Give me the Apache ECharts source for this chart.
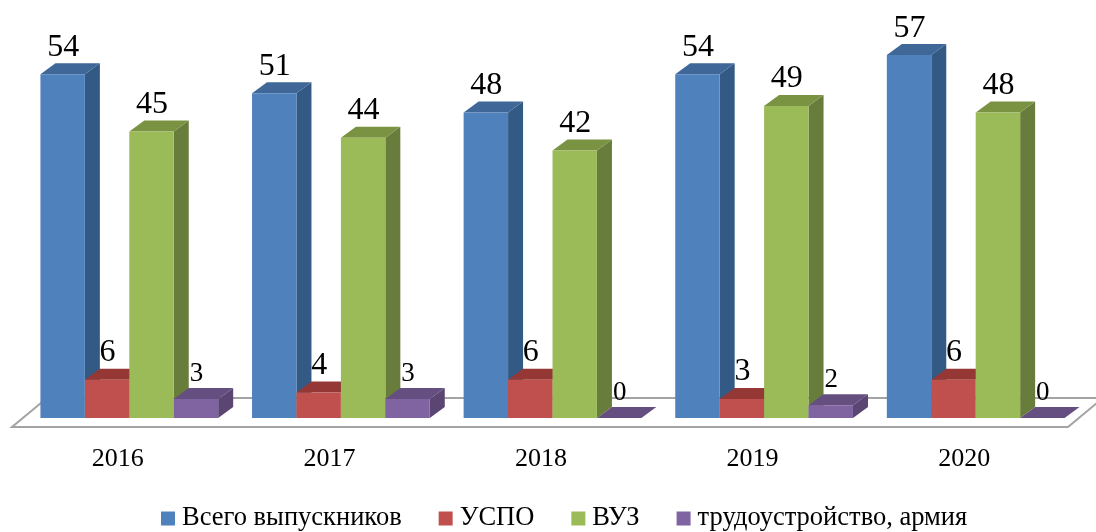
<!DOCTYPE html>
<html>
<head>
<meta charset="utf-8">
<title>Выпускники</title>
<script src="https://cdn.jsdelivr.net/npm/echarts@6/dist/echarts.min.js"></script>
<style>
  html, body { margin: 0; padding: 0; background: #fff; }
  #chart { width: 1096px; height: 532px; }
</style>
</head>
<body>
<div id="chart"></div>
<script>
const years = ['2016', '2017', '2018', '2019', '2020'];
const total = [54, 51, 48, 54, 57];
const uspo = [6, 4, 6, 3, 6];
const vuz = [45, 44, 42, 49, 48];
const work = [3, 3, 0, 2, 0];

const FONT = '"Liberation Serif", "Times New Roman", serif';
const DX = 15, DY = 11;   // глубина псевдо-3D
const BAR = 0.21;         // ширина столбца в долях категории
const SHIFT = 11.5;

function points(list) {
  return { points: list };
}

function barRenderer(slot, colors, fontSize, labelGap) {
  return function (params, api) {
    const top = api.coord([api.value(0), api.value(1)]);
    const base = api.coord([api.value(0), 0]);
    const w = api.size([1, 0])[0] * BAR;
    const x0 = top[0] + SHIFT + (slot - 2) * w;
    const x1 = x0 + w;
    const y0 = top[1], y1 = base[1];
    const children = [
      { type: 'polygon', shape: points([[x1, y0], [x1 + DX, y0 - DY], [x1 + DX, y1 - DY], [x1, y1]]), style: { fill: colors[2] } },
      { type: 'polygon', shape: points([[x0, y0], [x0 + DX, y0 - DY], [x1 + DX, y0 - DY], [x1, y0]]), style: { fill: colors[1] } }
    ];
    if (y1 > y0) {
      children.push({ type: 'rect', shape: { x: x0, y: y0, width: w, height: y1 - y0 }, style: { fill: colors[0] } });
    }
    children.push({
      type: 'text',
      style: {
        text: String(api.value(1)),
        x: x0 + w / 2 + 0.5,
        y: y0 - labelGap,
        align: 'center',
        verticalAlign: 'middle',
        font: fontSize + 'px ' + FONT,
        fill: '#000'
      }
    });
    return { type: 'group', children: children };
  };
}

function floorRenderer(params) {
  const c = params.coordSys;
  const y = c.y + c.height;
  return {
    type: 'polygon',
    shape: points([
      [c.x, y + 9],
      [c.x + c.width - 2, y + 9],
      [c.x + c.width + 33, y - 20],
      [c.x + 35, y - 20]
    ]),
    style: { fill: '#fff', stroke: '#a3a3a3', lineWidth: 2 }
  };
}

function barSeries(name, values, slot, colors, fontSize, labelGap) {
  return {
    name: name,
    type: 'custom',
    renderItem: barRenderer(slot, colors, fontSize, labelGap),
    itemStyle: { color: colors[0] },
    encode: { x: 0, y: 1 },
    data: values.map(function (v, i) { return [i, v]; }),
    clip: false
  };
}

const chart = echarts.init(document.getElementById('chart'));
chart.setOption({
  animation: false,
  backgroundColor: '#fff',
  legend: {
    data: ['Всего выпускников', 'УСПО', 'ВУЗ', 'трудоустройство, армия'],
    left: 156,
    top: 500,
    icon: 'rect',
    itemWidth: 14,
    itemHeight: 14,
    itemGap: 37,
    textStyle: { fontFamily: FONT, fontSize: 26.5, color: '#000', padding: [2, 0, 0, 2] }
  },
  grid: { left: 12, right: 26, top: 36, bottom: 114 },
  xAxis: {
    type: 'category',
    data: years,
    axisLine: { show: false },
    axisTick: { show: false },
    axisLabel: { fontFamily: FONT, fontSize: 26, color: '#000', margin: 28 }
  },
  yAxis: { type: 'value', min: 0, max: 60, show: false },
  series: [
    { type: 'custom', renderItem: floorRenderer, data: [[0, 0]], encode: { x: 0, y: 1 }, clip: false, silent: true },
    barSeries('Всего выпускников', total, 0, ['#4f81bd', '#3f6797', '#335a85'], 32, 27),
    barSeries('УСПО', uspo, 1, ['#c0504d', '#953735', '#8a3a38'], 32, 27),
    barSeries('ВУЗ', vuz, 2, ['#9bbb59', '#7a9343', '#687d3c'], 32, 27),
    barSeries('трудоустройство, армия', work, 3, ['#8064a2', '#654f80', '#5a4573'], 27, 25)
  ]
});
</script>
</body>
</html>
